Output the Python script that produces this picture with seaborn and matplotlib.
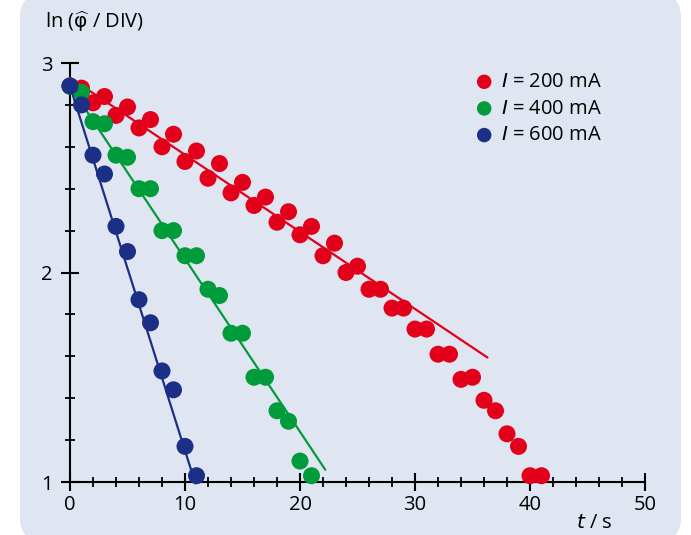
import numpy as np
import pandas as pd
import matplotlib.pyplot as plt
import seaborn as sns
from matplotlib.patches import FancyBboxPatch
from matplotlib.ticker import MultipleLocator

# Messwerte ln(phi / DIV) ueber t (s), je ein Wert pro Sekunde
t_200 = list(range(0, 42))
ln_200 = [2.89, 2.88, 2.81, 2.84, 2.75, 2.79, 2.69, 2.73, 2.60, 2.66,
          2.53, 2.58, 2.45, 2.52, 2.38, 2.43, 2.32, 2.36, 2.24, 2.29,
          2.18, 2.22, 2.08, 2.14, 2.00, 2.03, 1.92, 1.92, 1.83, 1.83,
          1.73, 1.73, 1.61, 1.61, 1.49, 1.50, 1.39, 1.34, 1.23, 1.17,
          1.03, 1.03]

t_400 = list(range(0, 22))
ln_400 = [2.89, 2.86, 2.72, 2.71, 2.56, 2.55, 2.40, 2.40, 2.20, 2.20,
          2.08, 2.08, 1.92, 1.89, 1.71, 1.71, 1.50, 1.50, 1.34, 1.29,
          1.10, 1.03]

t_600 = list(range(0, 12))
ln_600 = [2.89, 2.80, 2.56, 2.47, 2.22, 2.10, 1.87, 1.76, 1.53, 1.44,
          1.17, 1.03]

series = ['I = 200 mA', 'I = 400 mA', 'I = 600 mA']
legend_labels = ['$I$ = 200 mA', '$I$ = 400 mA', '$I$ = 600 mA']
colors = ['#e2001a', '#009b3a', '#1b2f86']

# Ausgleichsgeraden: Achsenabschnitt, Steigung, Ende
fit_intercept = [2.93, 2.89, 2.89]
fit_slope = [-0.0368, -0.0825, -0.174]
fit_end = [36.3, 22.2, 10.9]

df = pd.concat([
    pd.DataFrame({'t': t_200, 'ln': ln_200, 'Strom': series[0]}),
    pd.DataFrame({'t': t_400, 'ln': ln_400, 'Strom': series[1]}),
    pd.DataFrame({'t': t_600, 'ln': ln_600, 'Strom': series[2]}),
])

sns.set_style('white')
plt.rcParams['font.family'] = ['Open Sans', 'DejaVu Sans']
plt.rcParams['mathtext.fontset'] = 'dejavusans'
plt.rcParams['text.color'] = 'black'

fig = plt.figure(figsize=(6.91, 5.35), dpi=100)
fig.patch.set_facecolor('white')

# hellblauer Hintergrund mit runden Ecken
bg = FancyBboxPatch((20 / 691, -8 / 535), 661 / 691, 551 / 535,
                    boxstyle='round,pad=0,rounding_size=0.045',
                    transform=fig.transFigure, facecolor='#dfe5f1',
                    edgecolor='none', zorder=-10)
fig.patches.append(bg)

ax = fig.add_axes([70 / 691, 1 - 482 / 535, 575 / 691, 419 / 535])
ax.set_zorder(1)
ax.patch.set_alpha(0)

# Geraden
for i, name in enumerate(series):
    tt = np.array([0, fit_end[i]])
    line = pd.DataFrame({'t': tt, 'ln': fit_intercept[i] + fit_slope[i] * tt})
    sns.lineplot(data=line, x='t', y='ln', color=colors[i], linewidth=1.6,
                 ax=ax, zorder=2, clip_on=False)

# Messpunkte (600 mA zuletzt, liegt oben)
for i in range(len(series)):
    sub = df[df['Strom'] == series[i]]
    sns.scatterplot(data=sub, x='t', y='ln', color=colors[i], s=150,
                    edgecolor='none', ax=ax, zorder=3, clip_on=False,
                    label=legend_labels[i])

ax.set_xlim(0, 50)
ax.set_ylim(1, 3)
ax.set_xlabel('')
ax.set_ylabel('')

for s in ['top', 'right']:
    ax.spines[s].set_visible(False)
for s in ['left', 'bottom']:
    ax.spines[s].set_color('black')
    ax.spines[s].set_linewidth(1.5)
    ax.spines[s].set_zorder(1)

ax.xaxis.set_major_locator(MultipleLocator(10))
ax.xaxis.set_minor_locator(MultipleLocator(2))
ax.yaxis.set_major_locator(MultipleLocator(1))
ax.yaxis.set_minor_locator(MultipleLocator(0.2))
ax.tick_params(which='both', bottom=True, left=True, colors='black')
ax.tick_params(which='major', direction='inout', length=13, width=1.5,
               labelsize=14.5, labelcolor='black')
ax.tick_params(which='minor', direction='inout', length=7, width=1.3)
ax.tick_params(axis='x', which='major', pad=3)
ax.tick_params(axis='y', which='major', pad=6)

ax.text(45 / 691, 1 - 22 / 535, r'ln ($\widehat{\mathrm{\varphi}}$ / DIV)',
        transform=fig.transFigure, fontsize=14.5, va='center', ha='left')
ax.text(576 / 691, 1 - 523 / 535, '$t$ / s', transform=fig.transFigure,
        fontsize=14.5, va='center', ha='left')

leg = ax.legend(loc='upper left', bbox_to_anchor=(457 / 691, 1 - 62 / 535),
                bbox_transform=fig.transFigure, frameon=False, fontsize=14.5,
                handlelength=1.7, handletextpad=0.0, labelspacing=0.33,
                borderpad=0, markerscale=0.85)

plt.savefig('out.png', dpi=100)
